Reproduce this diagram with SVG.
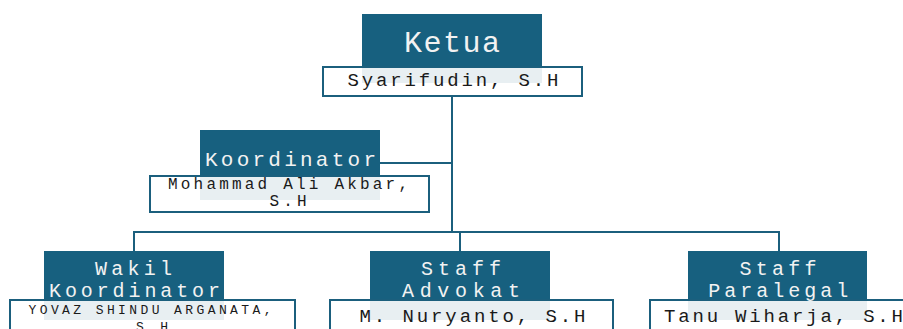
<svg xmlns="http://www.w3.org/2000/svg" width="903" height="329" viewBox="0 0 903 329">
<style>
.hd{fill:#17607f}
.nm{fill:#ffffff;fill-opacity:0.9;stroke:#1b5f7d;stroke-width:2}
.t{font-family:"Liberation Mono","Courier New",monospace;fill:#f2f2f2;text-anchor:middle}
.n{font-family:"Liberation Mono","Courier New",monospace;fill:#1a1a1a;text-anchor:middle}
.c{fill:none;stroke:#1b5f7d;stroke-width:2}
</style>
<rect width="903" height="329" fill="#ffffff"/>
<g id="connectors">
<path class="c" d="M452 96 V232"/>
<path class="c" d="M380 163 H452"/>
<path class="c" d="M134 251 V232 H779 V251"/>
<path class="c" d="M460 232 V251"/>
</g>
<g id="ketua">
<rect class="hd" x="362" y="14" width="180" height="69"/>
<rect class="nm" x="323" y="67" width="259" height="29"/>
<text class="t" x="452" y="52" font-size="30" textLength="96" lengthAdjust="spacing">Ketua</text>
<text class="n" x="453" y="86" font-size="19" textLength="211" lengthAdjust="spacing">Syarifudin, S.H</text>
</g>
<g id="koordinator">
<rect class="hd" x="200" y="130" width="180" height="70"/>
<rect class="nm" x="150" y="176" width="279" height="36"/>
<text class="t" x="290.5" y="166" font-size="21" textLength="171" lengthAdjust="spacing">Koordinator</text>
<text class="n" x="288" y="189" font-size="16" textLength="240" lengthAdjust="spacing">Mohammad Ali Akbar,</text>
<text class="n" x="288" y="206" font-size="16" textLength="37" lengthAdjust="spacing">S.H</text>
</g>
<g id="wakil">
<rect class="hd" x="44" y="251" width="180" height="69"/>
<rect class="nm" x="10" y="300" width="285" height="40"/>
<text class="t" x="133.5" y="275" font-size="20" textLength="77" lengthAdjust="spacing">Wakil</text>
<text class="t" x="134.5" y="297" font-size="20" textLength="171" lengthAdjust="spacing">Koordinator</text>
<text class="n" x="150" y="314" font-size="13" textLength="243" lengthAdjust="spacing">YOVAZ SHINDU ARGANATA,</text>
<text class="n" x="152" y="331" font-size="13" textLength="32" lengthAdjust="spacing">S.H</text>
</g>
<g id="advokat">
<rect class="hd" x="370" y="251" width="180" height="69"/>
<rect class="nm" x="330" y="300" width="283" height="40"/>
<text class="t" x="461" y="275" font-size="20" textLength="80" lengthAdjust="spacing">Staff</text>
<text class="t" x="461" y="297" font-size="20" textLength="118" lengthAdjust="spacing">Advokat</text>
<text class="n" x="472.5" y="322" font-size="19" textLength="226" lengthAdjust="spacing">M. Nuryanto, S.H</text>
</g>
<g id="paralegal">
<rect class="hd" x="688" y="251" width="179" height="69"/>
<rect class="nm" x="650" y="300" width="283" height="40"/>
<text class="t" x="778" y="275" font-size="20" textLength="77" lengthAdjust="spacing">Staff</text>
<text class="t" x="778.3" y="297" font-size="20" textLength="140" lengthAdjust="spacing">Paralegal</text>
<text class="n" x="664" y="322" font-size="19" textLength="239" lengthAdjust="spacing" style="text-anchor:start">Tanu Wiharja, S.H</text>
</g>
</svg>
